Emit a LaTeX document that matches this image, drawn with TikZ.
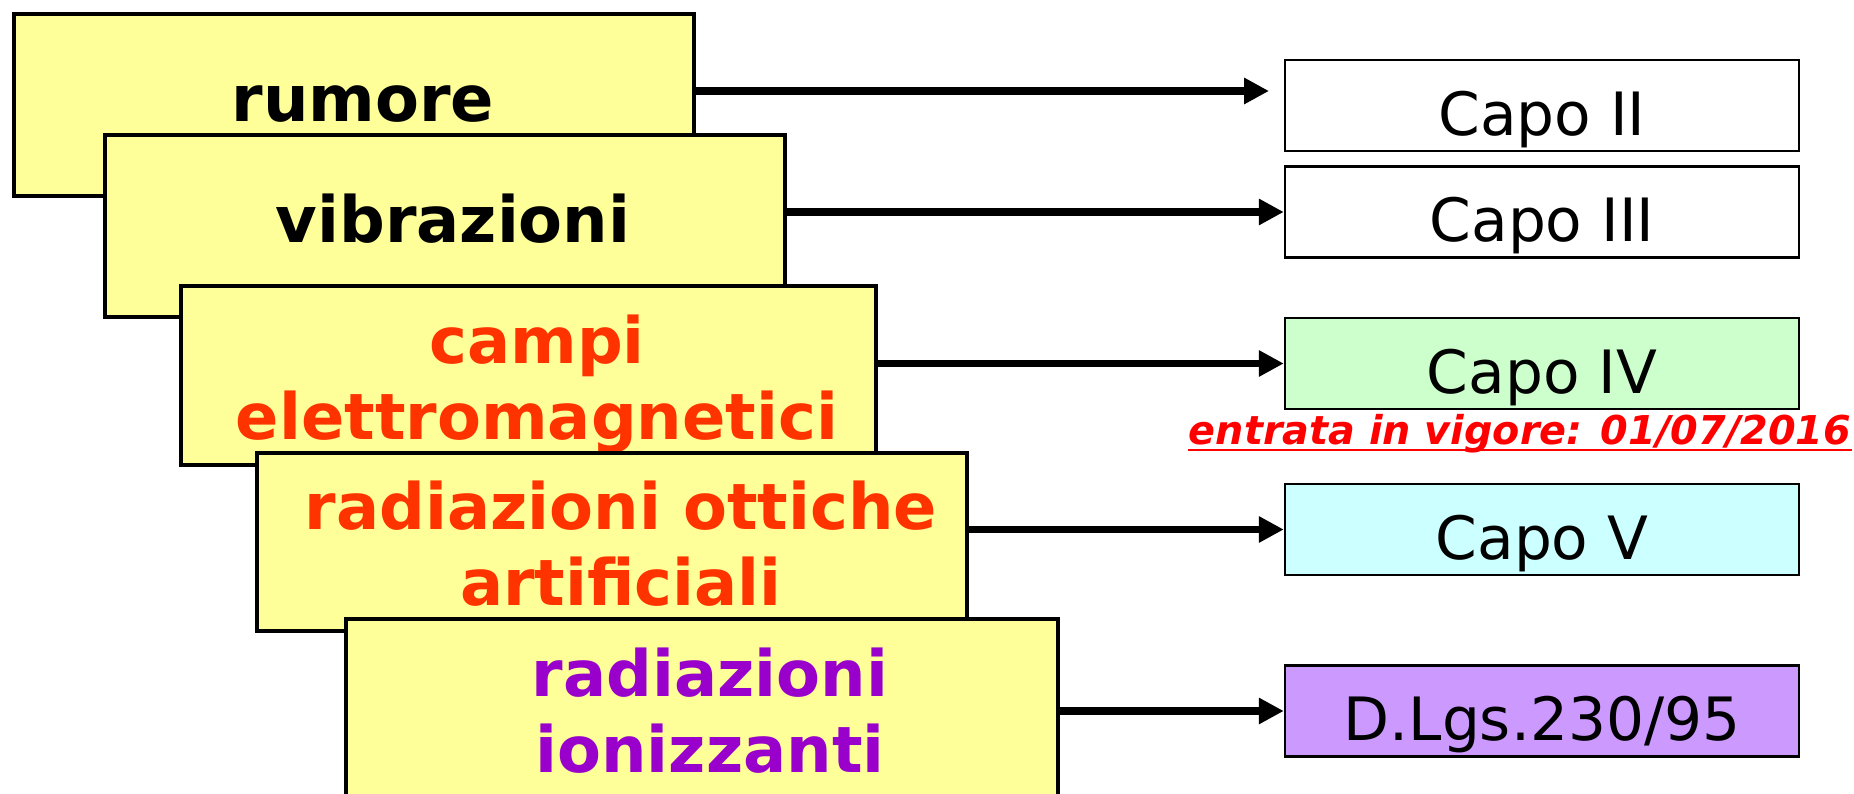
\documentclass[tikz,border=0pt]{standalone}
\usepackage{fontspec}
\setmainfont{DejaVu Sans}
\usepackage{xcolor}
\usetikzlibrary{positioning,arrows.meta}
\definecolor{topicyellow}{HTML}{FFFF99}
\definecolor{emorange}{HTML}{FF3300}
\definecolor{ionpurple}{HTML}{9900CC}
\definecolor{capogreen}{HTML}{CCFFCC}
\definecolor{capocyan}{HTML}{CCFFFF}
\definecolor{capoviolet}{HTML}{CC99FF}

\begin{document}
\begin{tikzpicture}[x=0.1mm, y=-0.1mm,
    topic/.style={rectangle, draw, line width=0.4mm, fill=topicyellow, inner sep=0pt},
    topictext/.style={font=\fontsize{18.2}{21.9}\selectfont\bfseries, align=center, anchor=base, inner sep=0pt},
    capo/.style={rectangle, draw, line width=0.25mm, minimum width=51.4mm, minimum height=9.1mm, inner ysep=0pt, text height=18pt, text depth=1pt, font=\fontsize{17}{20}\selectfont},
    arrow/.style={line width=0.75mm, -{Triangle[length=2.5mm, width=2.5mm]}}
]
    \useasboundingbox (0,0) rectangle (1854,794);
    \clip (0,0) rectangle (1854,794);

    \node[topic, minimum width=68mm, minimum height=18.2mm] (rumore) at (354,105.5) {};
    \node[topictext] (t1) at (363,122) {rumore};
    \node[topic, minimum width=68mm, minimum height=18.2mm] (vibrazioni) at (445,226.5) {};
    \node[topictext] (t2) at (453,243) {vibrazioni};
    \node[topic, minimum width=69.5mm, minimum height=17.9mm] (campi) at (528.5,375.5) {};
    \node[topictext, text=emorange] (t3) at (537,440) {campi\\elettromagnetici};
    \node[topic, minimum width=71mm, minimum height=17.8mm] (ottiche) at (611.5,542) {};
    \node[topictext, text=emorange] (t4) at (621,606) {radiazioni ottiche\\artificiali};
    \node[topic, minimum width=71.2mm, minimum height=17.8mm] (ionizzanti) at (702,708) {};
    \node[topictext, text=ionpurple] (t5) at (710,773) {radiazioni\\ionizzanti};

    \node[capo] (capo2) at (1542,105.5) {Capo II};
    \node[capo] (capo3) at (1542,212) {Capo III};
    \node[capo, fill=capogreen] (capo4) at (1542,363.5) {Capo IV};
    \node[capo, fill=capocyan] (capo5) at (1542,529.5) {Capo V};
    \node[capo, fill=capoviolet] (dlgs) at (1542,711) {D.Lgs.230/95};

    \node[anchor=base, inner sep=0pt, text=red, font=\fontsize{11.3}{13}\selectfont\bfseries\itshape] (vigore) at (1520,445) {entrata in vigore: 01/07/2016};
    \draw[red, line width=0.25mm] ([yshift=-0.5mm]vigore.base west) -- ([yshift=-0.5mm]vigore.base east);

    \coordinate (end2) at (1269,91);
    \draw[arrow] (rumore.east |- end2) -- (end2); \draw[arrow] (vibrazioni.east |- capo3) -- (capo3.west);
    \draw[arrow] (campi.east |- capo4) -- (capo4.west); \draw[arrow] (ottiche.east |- capo5) -- (capo5.west);
    \draw[arrow] (ionizzanti.east |- dlgs) -- (dlgs.west);
\end{tikzpicture}
\end{document}
